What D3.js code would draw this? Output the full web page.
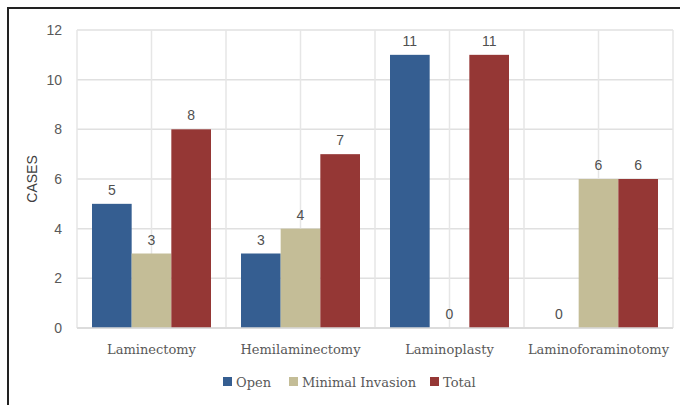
<!DOCTYPE html>
<html>
<head>
<meta charset="utf-8">
<script src="https://cdn.jsdelivr.net/npm/d3@7"></script>
<style>
  body { margin: 0; background: #fff; }
  svg { display: block; }
</style>
</head>
<body>
<div id="chart"></div>
<script>
const categories = ["Laminectomy", "Hemilaminectomy", "Laminoplasty", "Laminoforaminotomy"];
const seriesNames = ["Open", "Minimal Invasion", "Total"];
const openValues = [5, 3, 11, 0];
const minimalValues = [3, 4, 0, 6];
const totalValues = [8, 7, 11, 6];
const yTicks = [0, 2, 4, 6, 8, 10, 12];

const colors = ["#355e91", "#c4bd97", "#953735"];
const seriesValues = [openValues, minimalValues, totalValues];

const W = 680, H = 405;
const margin = { top: 30, right: 7, bottom: 77, left: 77 };
const width = W - margin.left - margin.right,
  height = H - margin.top - margin.bottom;

const svg = d3.select("#chart")
  .append("svg")
  .attr("width", W)
  .attr("height", H);

// chart frame
svg.append("rect")
  .attr("x", 8).attr("y", 8)
  .attr("width", W + 10).attr("height", H + 10)
  .attr("fill", "none")
  .attr("stroke", "#222")
  .attr("stroke-width", 2);

const g = svg.append("g")
  .attr("transform", `translate(${margin.left},${margin.top})`);

const x0 = d3.scaleBand().domain(categories).range([0, width]).paddingInner(0).paddingOuter(0);
const x1 = d3.scaleBand().domain(seriesNames).range([15, x0.bandwidth() - 15]);
const y = d3.scaleLinear().domain([0, 12]).range([height, 0]);

// horizontal gridlines
g.selectAll(".hgrid")
  .data(yTicks)
  .join("line")
  .attr("x1", 0).attr("x2", width)
  .attr("y1", d => y(d)).attr("y2", d => y(d))
  .attr("stroke", "#e0e0e0").attr("stroke-width", 1.5);

// vertical gridlines: boundaries and centres
const vlines = [];
categories.forEach(c => { vlines.push(x0(c)); vlines.push(x0(c) + x0.bandwidth() / 2); });
vlines.push(width);
g.selectAll(".vgrid")
  .data(vlines)
  .join("line")
  .attr("x1", d => d).attr("x2", d => d)
  .attr("y1", 0).attr("y2", height)
  .attr("stroke", "#e6e6e6").attr("stroke-width", 1.5);

// y tick labels
g.selectAll(".ytick")
  .data(yTicks)
  .join("text")
  .attr("x", -15)
  .attr("y", d => y(d))
  .attr("dy", "0.35em")
  .attr("text-anchor", "end")
  .attr("font-family", "Liberation Sans, Arial, sans-serif")
  .attr("font-size", 14)
  .attr("fill", "#595959")
  .text(d => d);

// bars
const groups = g.selectAll(".grp")
  .data(categories)
  .join("g")
  .attr("transform", d => `translate(${x0(d)},0)`);

groups.selectAll("rect")
  .data((c, i) => seriesNames.map((s, j) => ({ s, j, v: seriesValues[j][i] })))
  .join("rect")
  .attr("x", d => x1(d.s))
  .attr("y", d => y(d.v))
  .attr("width", x1.bandwidth())
  .attr("height", d => height - y(d.v))
  .attr("fill", d => colors[d.j]);

groups.selectAll(".lbl")
  .data((c, i) => seriesNames.map((s, j) => ({ s, j, v: seriesValues[j][i] })))
  .join("text")
  .attr("x", d => x1(d.s) + x1.bandwidth() / 2)
  .attr("y", d => y(d.v) - 9)
  .attr("text-anchor", "middle")
  .attr("font-family", "Liberation Sans, Arial, sans-serif")
  .attr("font-size", 14)
  .attr("fill", "#505050")
  .text(d => d.v);

// x axis baseline
g.append("line")
  .attr("x1", 0).attr("x2", width)
  .attr("y1", height).attr("y2", height)
  .attr("stroke", "#d9d9d9").attr("stroke-width", 1.5);

// category labels
g.selectAll(".xlbl")
  .data(categories)
  .join("text")
  .attr("x", d => x0(d) + x0.bandwidth() / 2)
  .attr("y", height + 26)
  .attr("text-anchor", "middle")
  .attr("font-family", "DejaVu Serif, serif")
  .attr("font-size", 13)
  .attr("fill", "#595959")
  .text(d => d);

// y axis title
svg.append("text")
  .attr("transform", `translate(37,${margin.top + height / 2}) rotate(-90)`)
  .attr("text-anchor", "middle")
  .attr("font-family", "Liberation Sans Narrow, Liberation Sans, sans-serif")
  .attr("font-size", 14)
  .attr("fill", "#404040")
  .text("CASES");

// legend
const legendX = [223, 289, 430];
const legend = svg.selectAll(".leg")
  .data(seriesNames)
  .join("g")
  .attr("transform", (d, i) => `translate(${legendX[i]},387)`);
legend.append("rect")
  .attr("x", 0).attr("y", -10)
  .attr("width", 9).attr("height", 9)
  .attr("fill", (d, i) => colors[i]);
legend.append("text")
  .attr("x", 13).attr("y", 0)
  .attr("font-family", "DejaVu Serif, serif")
  .attr("font-size", 13)
  .attr("fill", "#595959")
  .text(d => d);
</script>
</body>
</html>
